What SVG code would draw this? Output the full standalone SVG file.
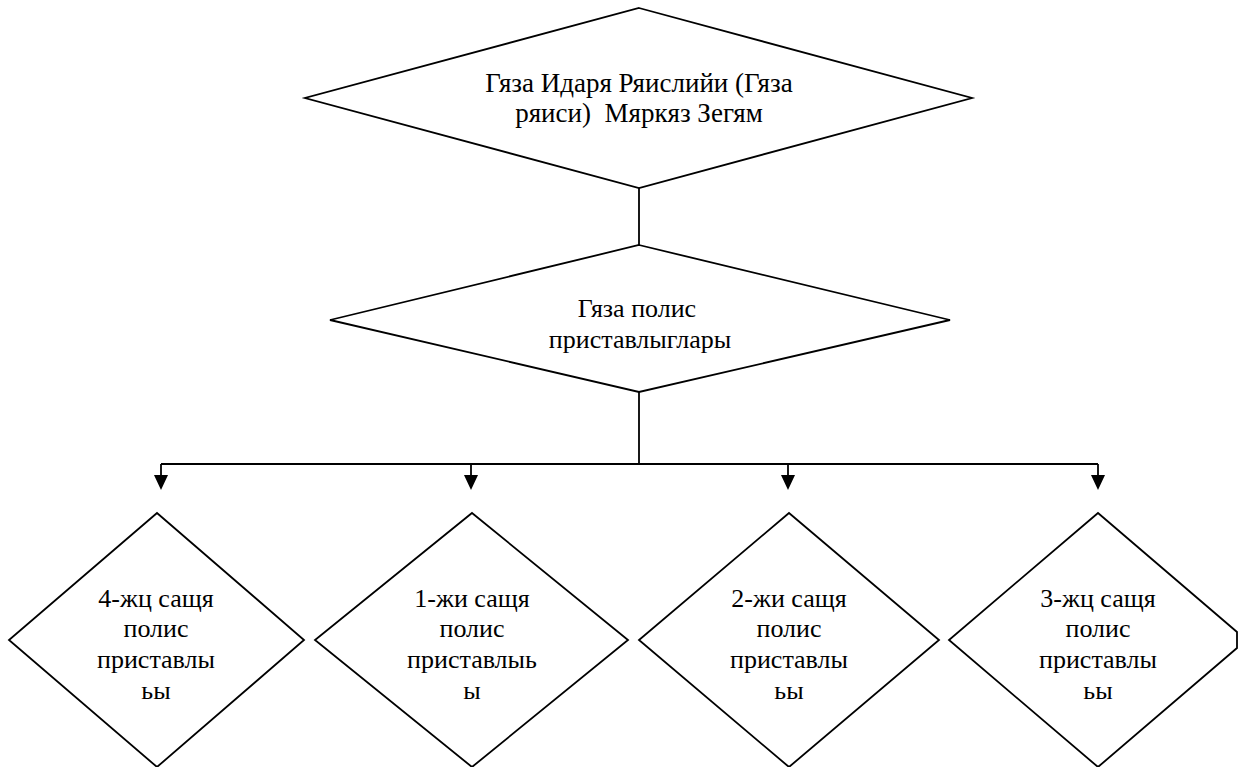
<svg xmlns="http://www.w3.org/2000/svg" width="1238" height="767" viewBox="0 0 1238 767">
<style>
.shape{fill:#fff;stroke:#000;stroke-width:1.8}
.conn{fill:none;stroke:#000;stroke-width:1.8}
.t{font-family:'Liberation Serif','Times New Roman',serif;font-size:26px;fill:#000;text-anchor:middle}
.big{font-size:27px}
</style>
<rect width="1238" height="767" fill="#fff"/>
<g id="connectors">
<line class="conn" x1="639" y1="188" x2="639" y2="245"/>
<line class="conn" x1="639" y1="392" x2="639" y2="464"/>
<line class="conn" x1="161" y1="464" x2="1098" y2="464"/>
<line class="conn" x1="161" y1="464" x2="161" y2="477"/>
<line class="conn" x1="471" y1="464" x2="471" y2="477"/>
<line class="conn" x1="788" y1="464" x2="788" y2="477"/>
<line class="conn" x1="1098" y1="464" x2="1098" y2="477"/>
<path d="M154,475 L168,475 L161,490 Z" fill="#000"/>
<path d="M464,475 L478,475 L471,490 Z" fill="#000"/>
<path d="M781,475 L795,475 L788,490 Z" fill="#000"/>
<path d="M1091,475 L1105,475 L1098,490 Z" fill="#000"/>
</g>
<g id="node-top">
<polygon class="shape" points="639,8 972,98 639,188 305,98"/>
<text class="t big" x="639" y="92">Гяза Идаря Ряислийи (Гяза</text>
<text class="t big" x="639" y="122" xml:space="preserve">ряиси)  Мяркяз Зегям</text>
</g>
<g id="node-mid">
<polygon class="shape" points="639,245 950,320 639,392 330,320"/>
<text class="t" x="637" y="317">Гяза полис</text>
<text class="t" x="640" y="348">приставлыглары</text>
</g>
<g id="node-4">
<polygon class="shape" points="157,513 304,640 157,767 9,640"/>
<text class="t" x="156" y="607">4-жц сащя</text>
<text class="t" x="156" y="637">полис</text>
<text class="t" x="156" y="668">приставлы</text>
<text class="t" x="156" y="699">ьы</text>
</g>
<g id="node-1">
<polygon class="shape" points="472,513 628,640 472,767 315,640"/>
<text class="t" x="472" y="607">1-жи сащя</text>
<text class="t" x="472" y="637">полис</text>
<text class="t" x="472" y="668">приставлыь</text>
<text class="t" x="472" y="699">ы</text>
</g>
<g id="node-2">
<polygon class="shape" points="789,513 939,640 789,767 639,640"/>
<text class="t" x="789" y="607">2-жи сащя</text>
<text class="t" x="789" y="637">полис</text>
<text class="t" x="789" y="668">приставлы</text>
<text class="t" x="789" y="699">ьы</text>
</g>
<g id="node-3">
<polygon class="shape" points="1098,513 1237,632 1237,648 1098,767 949,640"/>
<text class="t" x="1098" y="607">3-жц сащя</text>
<text class="t" x="1098" y="637">полис</text>
<text class="t" x="1098" y="668">приставлы</text>
<text class="t" x="1098" y="699">ьы</text>
</g>
</svg>
